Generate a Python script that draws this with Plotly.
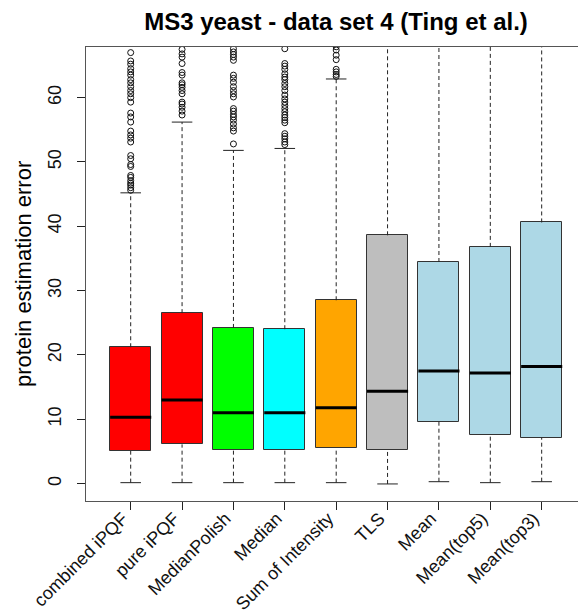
import plotly.graph_objects as go

# Quantification methods compared, one box per method
methods = ["combined iPQF", "pure iPQF", "MedianPolish", "Median",
           "Sum of Intensity", "TLS", "Mean", "Mean(top5)", "Mean(top3)"]
box_colors = ["#FF0000", "#FF0000", "#00FF00", "#00FFFF", "#FFA500",
              "#BEBEBE", "#ADD8E6", "#ADD8E6", "#ADD8E6"]

# Box statistics of the protein estimation error
whisker_low = [0.15, 0.15, 0.15, 0.15, 0.15, -0.05, 0.3, 0.15, 0.3]
q1 = [5.07, 6.1, 5.3, 5.3, 5.5, 5.2, 9.6, 7.6, 7.15]
median = [10.3, 13.0, 11.0, 11.0, 11.8, 14.35, 17.5, 17.2, 18.2]
q3 = [21.2, 26.5, 24.2, 24.0, 28.5, 38.6, 34.45, 36.8, 40.6]
whisker_high = [45.2, 56.2, 51.8, 52.1, 62.9, 71.0, 71.0, 71.0, 71.0]

# Points beyond the upper whisker
out_combined_ipqf = [67.0, 65.7, 65.2, 64.5, 64.0, 63.5, 62.8, 62.3, 61.7, 61.1,
                     60.6, 60.0, 59.3, 57.6, 57.0, 56.2, 54.8, 54.2, 53.7, 53.1,
                     51.0, 50.5, 49.6, 49.3, 47.9, 47.6, 47.1, 46.7, 46.4, 46.0, 45.6]
out_pure_ipqf = [67.5, 66.8, 66.3, 65.3, 63.9, 63.5, 62.3, 62.0, 61.6, 61.1,
                 60.6, 59.3, 59.0, 58.5, 57.9, 57.3]
out_medianpolish = [67.6, 67.1, 66.7, 66.3, 65.8, 63.5, 63.0, 62.4, 61.7, 61.1,
                    60.6, 60.1, 58.3, 57.9, 57.4, 57.0, 56.5, 55.9, 55.3, 54.8, 52.8]
out_median = [67.6, 65.3, 64.9, 64.4, 63.7, 63.2, 62.8, 62.2, 61.7, 61.1, 60.4,
              59.8, 59.3, 58.8, 58.3, 57.8, 57.3, 56.9, 56.5, 56.1, 54.4, 54.0,
              53.6, 53.1, 52.7]
out_sum_intensity = [67.9, 67.4, 66.6, 65.9, 64.4, 64.0, 63.6, 63.3]
outliers = [out_combined_ipqf, out_pure_ipqf, out_medianpolish, out_median,
            out_sum_intensity, [], [], [], []]

y_ticks = [0, 10, 20, 30, 40, 50, 60]

pos = list(range(1, len(methods) + 1))
half_box = 0.4
half_cap = 0.2

fig = go.Figure()

# Dashed whiskers
wx, wy = [], []
for p, lo, a, b, hi in zip(pos, whisker_low, q1, q3, whisker_high):
    wx += [p, p, None, p, p, None]
    wy += [lo, a, None, b, hi, None]
fig.add_trace(go.Scatter(x=wx, y=wy, mode="lines",
                         line=dict(color="#222222", width=1, dash="4px,3px"),
                         hoverinfo="skip", showlegend=False))

# Whisker caps
cx, cy = [], []
for p, lo, hi in zip(pos, whisker_low, whisker_high):
    cx += [p - half_cap, p + half_cap, None, p - half_cap, p + half_cap, None]
    cy += [lo, lo, None, hi, hi, None]
fig.add_trace(go.Scatter(x=cx, y=cy, mode="lines",
                         line=dict(color="#222222", width=1),
                         hoverinfo="skip", showlegend=False))

# Boxes from the first to the third quartile
fig.add_trace(go.Bar(x=pos, base=q1, y=[b - a for a, b in zip(q1, q3)],
                     width=0.8, marker=dict(color=box_colors,
                                            line=dict(color="#333333", width=1)),
                     hoverinfo="skip", showlegend=False))

# Thick median lines
mx, my = [], []
for p, m in zip(pos, median):
    mx += [p - half_box, p + half_box, None]
    my += [m, m, None]
fig.add_trace(go.Scatter(x=mx, y=my, mode="lines",
                         line=dict(color="#000000", width=3),
                         hoverinfo="skip", showlegend=False))

# Outlier points
ox, oy = [], []
for p, vals in zip(pos, outliers):
    ox += [p] * len(vals)
    oy += vals
fig.add_trace(go.Scatter(x=ox, y=oy, mode="markers",
                         marker=dict(symbol="circle-open", size=6,
                                     color="#111111", line=dict(width=1)),
                         hoverinfo="skip", showlegend=False))

font_family = "Liberation Sans, Arial, sans-serif"

fig.update_layout(
    width=578, height=610,
    margin=dict(l=86, r=0, t=47, b=109),
    plot_bgcolor="white", paper_bgcolor="white",
    font=dict(family=font_family, color="#000000"),
    bargap=0,
    title=dict(text="<b>MS3 yeast - data set 4 (Ting et al.)</b>",
               font=dict(size=24, family=font_family, color="#000000"),
               x=336 / 578, xanchor="center", xref="container",
               y=1 - 22 / 610, yanchor="middle", yref="container"),
    xaxis=dict(range=[0.130, 9.707], tickvals=pos, ticktext=methods,
               tickangle=-45, ticks="outside", ticklen=8, tickcolor="#222222",
               showline=True, linecolor="#555555", linewidth=1, mirror=True,
               showgrid=False, zeroline=False, automargin=False,
               ticklabelstandoff=-9, ticklabelshift=-8,
               tickfont=dict(size=18, family=font_family, color="#111111")),
    yaxis=dict(range=[-2.7, 67.87], tickvals=y_ticks,
               ticktext=[str(v) for v in y_ticks],
               tickangle=-90, ticks="outside", ticklen=8, tickcolor="#222222",
               showline=True, linecolor="#555555", linewidth=1, mirror=False,
               showgrid=False, zeroline=False, automargin=False,
               ticklabelstandoff=9,
               tickfont=dict(size=18, family=font_family, color="#111111")),
    annotations=[dict(text="protein estimation error", textangle=-90,
                      xref="paper", yref="paper", x=(23 - 86) / 492, y=0.5,
                      xanchor="center", yanchor="middle", showarrow=False,
                      font=dict(size=22, family=font_family, color="#000000"))],
)

fig.write_html("out.html")
